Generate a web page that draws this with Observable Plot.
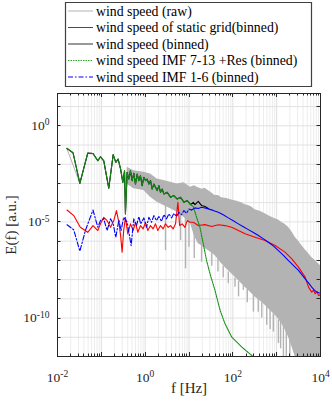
<!DOCTYPE html>
<html><head><meta charset="utf-8">
<script src="https://cdn.jsdelivr.net/npm/d3@7"></script>
<script src="https://cdn.jsdelivr.net/npm/@observablehq/plot@0.6"></script>
<style>
html,body{margin:0;padding:0;background:#fff;}
body{width:332px;height:405px;overflow:hidden;}
</style></head>
<body><div id="chart"></div>
<script>
// ---- values (log10 of f [Hz] and log10 of E(f)) ----
const legendLabels = [
  "wind speed (raw)",
  "wind speed of static grid(binned)",
  "wind speed (binned)",
  "wind speed IMF 7-13 +Res (binned)",
  "wind speed IMF 1-6 (binned)"
];
const xTickVals = [1e-2, 1, 1e2, 1e4];
const xTickLabels = ["10^-2", "10^0", "10^2", "10^4"];
const yTickVals = [1, 1e-5, 1e-10];
const yTickLabels = ["10^0", "10^-5", "10^-10"];
const xLabel = "f [Hz]";
const yLabel = "E(f) [a.u.]";

// raw spectrum: low-frequency line
const rawLowLogF = [-1.783, -1.49, -1.31, -1.19, -1.08, -1.02, -0.944, -0.83, -0.73, -0.67, -0.617, -0.56, -0.51, -0.47, -0.45, -0.411];
const rawLowLogE = [-1.20, -2.99, -1.44, -1.46, -1.80, -1.63, -1.84, -3.25, -1.52, -1.92, -1.75, -2.27, -2.96, -2.36, -4.58, -2.42];
// raw spectrum: noisy band (upper / lower envelope)
const rawBandLogF = [-0.411, -0.258, -0.030, 0.121, 0.274, 0.427, 0.578, 0.731, 0.885, 1.035, 1.12, 1.211, 1.30, 1.365, 1.44, 1.52, 1.593, 1.67, 1.744, 1.86, 1.973, 2.09, 2.201, 2.28, 2.354, 2.43, 2.507, 2.62, 2.736, 2.85, 2.965, 3.04, 3.115, 3.19, 3.269, 3.35, 3.422, 3.50, 3.573, 3.65, 3.726, 3.80, 3.879, 3.94, 4.0];
const rawBandHiLogE = [-2.16, -2.34, -2.42, -2.51, -2.77, -2.85, -2.94, -3.03, -2.96, -3.20, -3.12, -3.22, -3.30, -3.25, -3.37, -3.50, -3.63, -3.62, -3.74, -3.78, -3.86, -3.92, -4.00, -4.10, -4.15, -4.22, -4.37, -4.45, -4.58, -4.72, -4.84, -4.90, -5.03, -5.12, -5.28, -5.52, -5.80, -6.00, -6.23, -6.45, -6.64, -6.85, -7.01, -7.15, -7.27];
const rawBandLoLogE = [-3.03, -3.28, -3.37, -3.72, -3.98, -4.15, -4.32, -4.50, -4.76, -5.10, -5.70, -6.14, -6.25, -6.38, -6.49, -6.62, -6.75, -6.95, -7.18, -7.45, -7.70, -7.95, -8.21, -8.40, -8.56, -8.72, -8.91, -9.10, -9.34, -9.60, -9.86, -10.05, -10.29, -10.60, -10.99, -11.50, -12, -12, -12, -12, -12, -12, -12, -12, -12];
// raw spectrum: deep downward spikes
const rawSpikeLogF = [0.464, 0.807, 0.921, 0.999, 1.12, 1.287, 1.52, 1.66, 1.78, 1.897, 2.05, 2.13, 2.24, 2.33, 2.469, 2.58, 2.66, 2.773, 2.85, 2.926, 3.04, 3.09, 3.154, 3.22, 3.30];
const rawSpikeTopLogE = [-4.1, -4.4, -4.6, -4.9, -5.6, -6.2, -6.6, -6.9, -7.3, -7.6, -7.9, -8.1, -8.3, -8.5, -8.8, -9.0, -9.2, -9.3, -9.5, -9.8, -10.1, -10.2, -10.4, -10.6, -10.9];
const rawSpikeBotLogE = [-6.49, -5.97, -7.44, -6.32, -6.90, -7.09, -7.30, -7.60, -7.90, -8.21, -8.40, -8.90, -8.56, -9.20, -9.69, -9.70, -10.00, -10.38, -10.60, -10.73, -11.33, -11.60, -12, -12, -12];

// static grid (binned), red
const redLogF = [-1.783, -1.63, -1.48, -1.31, -1.19, -1.08, -1.02, -0.944, -0.87, -0.79, -0.716, -0.655, -0.60, -0.56, -0.526, -0.49, -0.45, -0.396, -0.335, -0.274, -0.221, -0.168, -0.107, -0.046, 0.008, 0.061, 0.122, 0.183, 0.236, 0.289, 0.350, 0.411, 0.465, 0.526, 0.579, 0.640, 0.693, 0.747, 0.785, 0.846, 0.907, 0.960, 1.021, 1.097, 1.211, 1.364, 1.516, 1.669, 1.82, 1.973, 2.126, 2.28, 2.507, 2.736, 2.965, 3.19, 3.345, 3.497, 3.65, 3.726, 3.80, 3.84, 3.878, 3.92, 3.954, 4.0];
const redLogE = [-4.38, -4.67, -5.28, -5.54, -5.19, -5.45, -5.10, -4.76, -4.93, -5.28, -4.93, -4.41, -5.02, -5.71, -6.57, -5.45, -4.76, -5.62, -5.10, -5.45, -5.02, -5.54, -5.19, -5.36, -5.02, -5.45, -5.19, -5.36, -5.10, -5.45, -5.19, -5.36, -5.10, -5.28, -5.19, -5.36, -5.10, -3.98, -5.19, -5.10, -5.28, -4.93, -5.02, -5.02, -5.19, -5.14, -5.24, -5.15, -5.19, -5.28, -5.45, -5.62, -5.80, -5.97, -6.23, -6.57, -6.92, -7.35, -7.87, -8.39, -8.65, -8.55, -8.74, -8.62, -8.82, -8.80];

// wind speed (binned), black
const binLogF = [-1.783, -1.646, -1.49, -1.31, -1.19, -1.08, -1.02, -0.944, -0.83, -0.73, -0.67, -0.617, -0.56, -0.51, -0.47, -0.45, -0.411, -0.373, -0.335, -0.297, -0.259, -0.221, -0.183, -0.145, -0.107, -0.069, -0.030, 0.008, 0.046, 0.084, 0.122, 0.160, 0.198, 0.236, 0.274, 0.312, 0.350, 0.389, 0.427, 0.503, 0.579, 0.655, 0.731, 0.808, 0.884, 0.960, 1.036, 1.098, 1.136, 1.211, 1.287, 1.364, 1.44];
const binLogE = [-1.177, -1.40, -2.99, -1.42, -1.44, -1.82, -1.61, -1.82, -3.25, -1.50, -1.90, -1.73, -2.25, -2.94, -2.34, -4.58, -2.42, -2.77, -2.34, -2.85, -2.47, -3.03, -2.51, -2.85, -2.60, -3.11, -2.68, -2.85, -2.77, -3.03, -2.85, -3.29, -3.03, -3.20, -3.37, -3.11, -3.46, -3.29, -3.55, -3.46, -3.72, -3.63, -3.81, -3.72, -3.98, -3.89, -4.10, -3.98, -4.10, -3.93, -4.15, -4.20, -4.30];

// IMF 7-13 + Res (binned), green dotted
const imfLowLogF = [-1.783, -1.646, -1.49, -1.31, -1.19, -1.08, -1.02, -0.944, -0.83, -0.73, -0.67, -0.617, -0.56, -0.51, -0.47, -0.45, -0.411, -0.373, -0.335, -0.297, -0.259, -0.221, -0.183, -0.145, -0.107, -0.069, -0.030, 0.008, 0.046, 0.084, 0.122, 0.160, 0.198, 0.236, 0.274, 0.312, 0.350, 0.389, 0.427, 0.503, 0.579, 0.655, 0.731, 0.808, 0.884, 0.960, 1.036, 1.098, 1.173, 1.25, 1.326, 1.40, 1.48, 1.593, 1.71, 1.82, 1.973, 2.20, 2.47];
const imfLowLogE = [-1.177, -1.40, -2.99, -1.42, -1.44, -1.82, -1.61, -1.82, -3.25, -1.50, -1.90, -1.73, -2.25, -2.94, -2.34, -4.58, -2.42, -2.77, -2.34, -2.85, -2.47, -3.03, -2.51, -2.85, -2.60, -3.11, -2.68, -2.85, -2.77, -3.03, -2.85, -3.29, -3.03, -3.20, -3.37, -3.11, -3.46, -3.29, -3.55, -3.46, -3.72, -3.63, -3.81, -3.72, -3.98, -3.89, -4.10, -4.20, -4.76, -5.28, -6.14, -7.00, -7.70, -8.56, -9.60, -10.29, -10.98, -11.50, -12.02];

// IMF 1-6 (binned), blue dash-dot
const imfHighLogF = [-1.783, -1.63, -1.49, -1.364, -1.19, -1.08, -1.02, -0.944, -0.87, -0.79, -0.73, -0.67, -0.60, -0.55, -0.49, -0.41, -0.32, -0.26, -0.198, -0.145, -0.103, -0.030, 0.030, 0.084, 0.145, 0.198, 0.259, 0.312, 0.373, 0.427, 0.488, 0.541, 0.602, 0.655, 0.716, 0.770, 0.830, 0.884, 0.945, 0.998, 1.060, 1.136, 1.211, 1.287, 1.364, 1.44, 1.55, 1.669, 1.78, 1.897, 2.01, 2.126, 2.24, 2.354, 2.47, 2.583, 2.70, 2.81, 2.93, 3.04, 3.16, 3.27, 3.38, 3.497, 3.57, 3.65, 3.73, 3.80, 3.86, 3.915, 3.96, 4.0];
const imfHighLogE = [-5.15, -5.41, -6.52, -5.45, -4.38, -5.28, -4.93, -4.84, -5.45, -4.84, -5.10, -5.80, -4.90, -5.45, -4.76, -5.02, -6.23, -4.84, -5.19, -4.72, -5.10, -4.79, -5.28, -4.76, -5.02, -4.67, -4.93, -4.72, -4.97, -4.62, -4.84, -4.58, -4.79, -4.55, -4.72, -4.50, -4.62, -4.41, -4.55, -4.33, -4.38, -4.27, -4.30, -4.24, -4.28, -4.32, -4.40, -4.50, -4.63, -4.79, -4.94, -5.10, -5.25, -5.40, -5.55, -5.71, -5.88, -6.06, -6.26, -6.49, -6.75, -7.01, -7.26, -7.52, -7.73, -7.96, -8.18, -8.39, -8.55, -8.65, -8.68, -8.70];

// ---- build tables ----
const p10 = v => Math.pow(10, v);
const pts = (lf, le) => lf.map((v, i) => ({f: p10(v), E: p10(le[i])}));
const rawLow = pts(rawLowLogF, rawLowLogE);
const band = rawBandLogF.map((v, i) => ({f: p10(v), hi: p10(rawBandHiLogE[i]), lo: p10(rawBandLoLogE[i])}));
const spikes = rawSpikeLogF.map((v, i) => ({f: p10(v), top: p10(rawSpikeTopLogE[i]), bot: p10(rawSpikeBotLogE[i])}));
const red = pts(redLogF, redLogE);
const black = pts(binLogF, binLogE);
const green = pts(imfLowLogF, imfLowLogE);
const blue = pts(imfHighLogF, imfHighLogE);
// dense binned part (many points) renders as an unbroken line in the original
const blueSparse = blue.filter(d => d.f <= p10(1.06));
const blueDense = blue.filter(d => d.f >= p10(1.06));

// ---- layout ----
const W = 332, H = 405, mL = 57, mR = 12, mT = 93, mB = 49;
const xDomain = [1e-2, 1e4], yDomain = [1e-12, 47.9];
const xMajor = [], xMinor = [];
for (let k = -2; k <= 4; k++) xMajor.push(p10(k));
for (let k = -2; k < 4; k++) for (let m = 2; m <= 9; m++) xMinor.push(m * p10(k));
const yGrid = [];
for (let k = -12; k <= 1; k++) yGrid.push(p10(k));

const FONT = '"Liberation Serif", "DejaVu Serif", serif';
const COL = {raw: "#b3b3b3", red: "#ff0000", black: "#000000", green: "#138f13", blue: "#0000ff"};
const DASH = {green: "1.5,1", blue: "5,2,1.5,2"};

const chart = Plot.plot({
  width: W, height: H,
  marginLeft: mL, marginRight: mR, marginTop: mT, marginBottom: mB,
  style: {fontSize: "13px", color: "#262626", background: "white"},
  x: {type: "log", domain: xDomain},
  y: {type: "log", domain: yDomain},
  marks: [
    Plot.ruleX(xMinor, {stroke: "#ededed"}),
    Plot.ruleX(xMajor, {stroke: "#dedede"}),
    Plot.ruleY(yGrid, {stroke: "#e2e2e2"}),
    Plot.areaY(band, {x: "f", y1: "lo", y2: "hi", fill: COL.raw, clip: true}),
    Plot.ruleX(spikes, {x: "f", y1: "top", y2: "bot", stroke: COL.raw, strokeWidth: 1.4, clip: true}),
    Plot.line(rawLow, {x: "f", y: "E", stroke: COL.raw, strokeWidth: 1, clip: true}),
    Plot.line(red, {x: "f", y: "E", stroke: COL.red, strokeWidth: 1.1, clip: true}),
    Plot.line(black, {x: "f", y: "E", stroke: COL.black, strokeWidth: 1.1, clip: true}),
    Plot.line(green, {x: "f", y: "E", stroke: COL.green, strokeWidth: 1.1, strokeDasharray: DASH.green, clip: true}),
    Plot.line(blueSparse, {x: "f", y: "E", stroke: COL.blue, strokeWidth: 1.1, strokeDasharray: DASH.blue, clip: true}),
    Plot.line(blueDense, {x: "f", y: "E", stroke: COL.blue, strokeWidth: 1.1, clip: true}),
    Plot.axisX({ticks: xTickVals, tickFormat: d => xTickLabels[xTickVals.indexOf(d)], tickSize: 0, tickPadding: 16, label: null, fontSize: 13.5, fill: "#262626"}),
    Plot.axisY({ticks: yTickVals, tickFormat: d => yTickLabels[yTickVals.indexOf(d)], tickSize: 0, tickPadding: 8, label: null, fontSize: 13.5, fill: "#262626"}),
    Plot.text([xLabel], {frameAnchor: "bottom", text: d => d, dy: 36, fontSize: 15, fill: "#262626"}),
    Plot.text([yLabel], {frameAnchor: "left", text: d => d, dx: -46, rotate: -90, textAnchor: "middle", fontSize: 15, fill: "#262626"}),
    Plot.frame({stroke: "#262626", strokeWidth: 1})
  ]
});
const svg = d3.select(chart);
svg.style("font-family", FONT);

// superscripts in tick labels
svg.selectAll("text").each(function () {
  const s = this.textContent;
  const m = s.match(/^(\d+)\^(.+)$/);
  if (!m) return;
  const t = d3.select(this);
  t.text(null);
  t.append("tspan").text(m[1]);
  t.append("tspan").attr("dy", "-0.5em").style("font-size", "9.5px").text(m[2]);
});

// inward tick marks on all four sides
const sx = chart.scale("x"), sy = chart.scale("y");
const tg = svg.append("g").attr("stroke", "#262626").attr("stroke-width", 1);
const yB = H - mB, yT = mT, xLf = mL, xRt = W - mR;
for (const v of xMajor.concat(xMinor)) {
  const px = Math.round(sx.apply(v)) + 0.5;
  const len = xMajor.includes(v) ? 4 : 2.5;
  tg.append("line").attr("x1", px).attr("x2", px).attr("y1", yB).attr("y2", yB - len);
  tg.append("line").attr("x1", px).attr("x2", px).attr("y1", yT).attr("y2", yT + len);
}
for (const v of yGrid) {
  const py = Math.round(sy.apply(v)) + 0.5;
  if (py < yT || py > yB) continue;
  tg.append("line").attr("x1", xLf).attr("x2", xLf + 3.5).attr("y1", py).attr("y2", py);
  tg.append("line").attr("x1", xRt).attr("x2", xRt - 3.5).attr("y1", py).attr("y2", py);
}

// legend (drawn into the same svg, above the axes box)
const legendStyles = [
  {stroke: COL.raw, dash: null},
  {stroke: COL.red, dash: null},
  {stroke: "#333", dash: null},
  {stroke: "#2faa2f", dash: DASH.green},
  {stroke: COL.blue, dash: DASH.blue}
];
const lg = svg.append("g").attr("aria-label", "legend");
legendLabels.forEach((lab, i) => {
  const cy = 11 + 16.5 * i;
  const ln = lg.append("line").attr("x1", 68).attr("x2", 93).attr("y1", cy).attr("y2", cy)
    .attr("stroke", legendStyles[i].stroke).attr("stroke-width", 1);
  if (legendStyles[i].dash) ln.attr("stroke-dasharray", legendStyles[i].dash);
  lg.append("text").attr("x", 96).attr("y", cy).attr("dy", "0.33em")
    .attr("text-anchor", "start").style("text-anchor", "start")
    .style("font-family", FONT).style("font-size", "13.8px").attr("fill", "#000").text(lab);
});
// legend box outline
lg.append("path").attr("d", "M65.5,2.5H311.5V86.5H65.5Z")
  .style("fill", "none").style("stroke", "#404040").style("stroke-width", "1.2px");
document.getElementById("chart").appendChild(chart);
</script>
</body></html>
